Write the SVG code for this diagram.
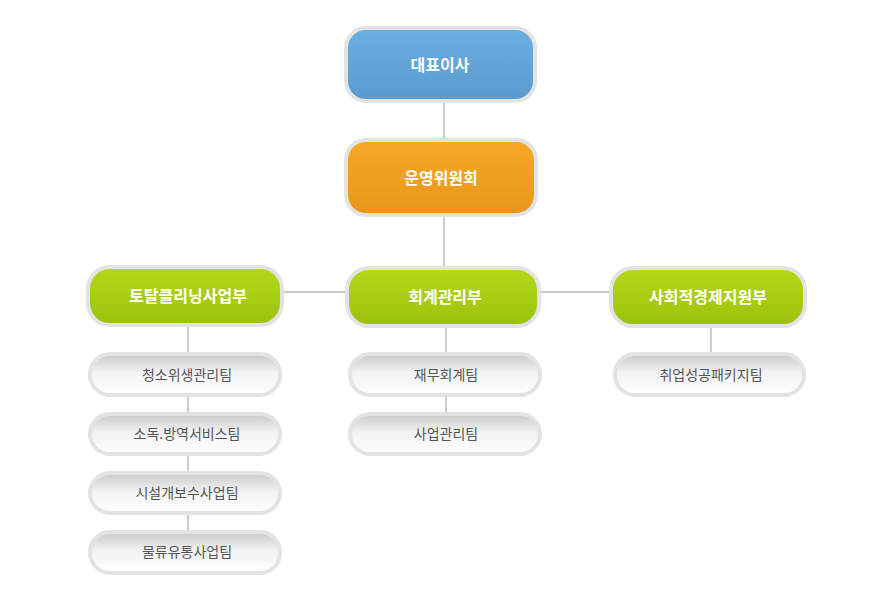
<svg xmlns="http://www.w3.org/2000/svg" width="885" height="599" viewBox="0 0 885 599">
<defs>
<linearGradient id="gb" x1="0" y1="0" x2="0" y2="1"><stop offset="0" stop-color="#6aafe2"/><stop offset="1" stop-color="#5a9bce"/></linearGradient>
<linearGradient id="go" x1="0" y1="0" x2="0" y2="1"><stop offset="0" stop-color="#f7a823"/><stop offset="1" stop-color="#e8961a"/></linearGradient>
<linearGradient id="gg" x1="0" y1="0" x2="0" y2="1"><stop offset="0" stop-color="#b5d918"/><stop offset="1" stop-color="#9cc10c"/></linearGradient>
<linearGradient id="gy" x1="0" y1="0" x2="0" y2="1"><stop offset="0" stop-color="#c9c9c9"/><stop offset="0.45" stop-color="#f2f2f2"/><stop offset="1" stop-color="#ffffff"/></linearGradient>
</defs>
<style>
.b{stroke:#e3e3e3;stroke-width:4}
.t{font-family:"Noto Sans CJK KR",sans-serif;font-weight:bold;fill:#fff;font-size:16px;text-anchor:middle}
.s{font-family:"Noto Sans CJK KR",sans-serif;fill:#555;font-size:14px;text-anchor:middle}
#conn line{stroke:#999;stroke-width:1}
</style>
<rect width="885" height="599" fill="#fff"/>
<g id="conn">
<line x1="444" y1="103" x2="444" y2="138"/>
<line x1="444" y1="217" x2="444" y2="266"/>
<line x1="284" y1="292" x2="345" y2="292"/>
<line x1="541" y1="292" x2="609" y2="292"/>
<line x1="188" y1="327" x2="188" y2="530"/>
<line x1="446" y1="328" x2="446" y2="412"/>
<line x1="711" y1="327" x2="711" y2="352"/>
</g>
<g id="ceo"><rect class="b" x="346" y="28" width="189" height="73" rx="20" fill="url(#gb)"/><text class="t" x="440" y="71">대표이사</text></g>
<g id="committee"><rect class="b" x="346" y="140" width="190" height="75" rx="20" fill="url(#go)"/><text class="t" x="441" y="184">운영위원회</text></g>
<g id="total"><rect class="b" x="88" y="267" width="194" height="58" rx="22" fill="url(#gg)"/><text class="t" x="188" y="302">토탈클리닝사업부</text></g>
<g id="account"><rect class="b" x="347" y="268" width="192" height="58" rx="22" fill="url(#gg)"/><text class="t" x="445" y="303">회계관리부</text></g>
<g id="social"><rect class="b" x="611" y="268" width="194" height="58" rx="22" fill="url(#gg)"/><text class="t" x="708" y="303">사회적경제지원부</text></g>
<g id="t1"><rect class="b" x="90" y="354" width="190" height="41" rx="20" fill="url(#gy)"/><text class="s" x="187" y="380">청소위생관리팀</text></g>
<g id="t2"><rect class="b" x="90" y="414" width="190" height="40" rx="20" fill="url(#gy)"/><text class="s" x="187" y="439">소독.방역서비스팀</text></g>
<g id="t3"><rect class="b" x="90" y="473" width="190" height="40" rx="20" fill="url(#gy)"/><text class="s" x="187" y="498">시설개보수사업팀</text></g>
<g id="t4"><rect class="b" x="90" y="532" width="190" height="41" rx="20" fill="url(#gy)"/><text class="s" x="187" y="557">물류유통사업팀</text></g>
<g id="m1"><rect class="b" x="350" y="354" width="190" height="41" rx="20" fill="url(#gy)"/><text class="s" x="446" y="380">재무회계팀</text></g>
<g id="m2"><rect class="b" x="350" y="414" width="190" height="40" rx="20" fill="url(#gy)"/><text class="s" x="446" y="439">사업관리팀</text></g>
<g id="r1"><rect class="b" x="615" y="354" width="189" height="41" rx="20" fill="url(#gy)"/><text class="s" x="711" y="380">취업성공패키지팀</text></g>
</svg>
